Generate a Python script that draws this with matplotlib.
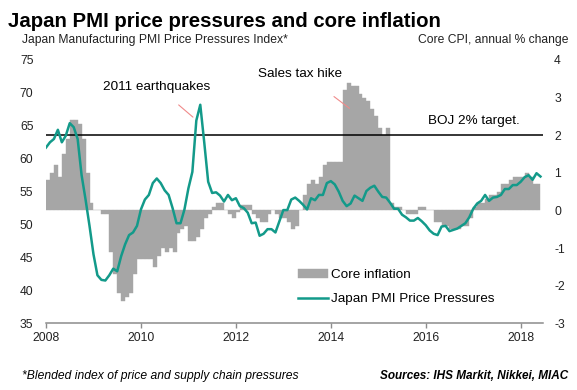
import numpy as np
import matplotlib
matplotlib.use("Agg")
import matplotlib.pyplot as plt

plt.rcParams['font.family'] = ['Liberation Sans', 'DejaVu Sans']
plt.rcParams['axes.unicode_minus'] = False

# monthly data, Jan 2008 onwards
cpi = [
    0.8, 1.0, 1.2, 0.9, 1.5, 1.9, 2.4, 2.4, 2.3, 1.9, 1.0, 0.2,          # 2008
    0.0, 0.0, -0.1, -0.1, -1.1, -1.7, -2.2, -2.4, -2.3, -2.2, -1.7, -1.3,  # 2009
    -1.3, -1.3, -1.3, -1.5, -1.2, -1.0, -1.1, -1.0, -1.1, -0.6, -0.5, -0.4,  # 2010
    -0.8, -0.8, -0.7, -0.5, -0.2, -0.1, 0.1, 0.2, 0.2, 0.0, -0.1, -0.2,  # 2011
    -0.05, 0.15, 0.15, 0.15, -0.1, -0.2, -0.3, -0.3, -0.1, 0.0, -0.1, -0.2,  # 2012
    -0.2, -0.3, -0.5, -0.4, 0.0, 0.4, 0.7, 0.8, 0.7, 0.9, 1.2, 1.3,      # 2013
    1.3, 1.3, 1.3, 3.2, 3.4, 3.3, 3.3, 3.1, 3.0, 2.9, 2.7, 2.5,          # 2014
    2.2, 2.0, 2.2, 0.2, 0.1, 0.1, 0.0, -0.1, -0.1, -0.1, 0.1, 0.1,       # 2015
    0.0, 0.0, -0.3, -0.3, -0.4, -0.4, -0.5, -0.5, -0.5, -0.4, -0.4, -0.2,  # 2016
    0.1, 0.2, 0.2, 0.3, 0.4, 0.4, 0.5, 0.7, 0.7, 0.8, 0.9, 0.9,          # 2017
    0.9, 1.0, 0.9, 0.7, 0.7,                                              # 2018
]

pmi = [
    61.7, 62.5, 63.0, 64.4, 62.5, 63.5, 65.4, 64.8, 63.0, 57.5, 53.8, 49.8,
    45.5, 42.3, 41.6, 41.5, 42.3, 43.3, 42.9, 45.2, 47.0, 48.4, 48.8, 49.8,
    52.3, 53.8, 54.5, 56.3, 57.0, 56.3, 55.2, 54.5, 52.5, 50.2, 50.2, 52.3,
    55.5, 58.0, 65.8, 68.2, 62.5, 56.5, 54.8, 54.9, 54.4, 53.5, 54.5, 53.7,
    54.0, 52.8, 52.5, 51.8, 50.2, 50.3, 48.3, 48.6, 49.3, 49.3, 48.8, 50.5,
    52.2, 52.2, 53.8, 54.1, 53.6, 53.0, 52.3, 54.0, 53.7, 54.5, 54.5, 56.3,
    56.6, 56.1, 55.0, 53.6, 52.8, 53.2, 54.4, 54.0, 53.6, 55.1, 55.6, 55.9,
    55.0, 54.2, 54.1, 53.3, 52.4, 52.4, 51.5, 51.1, 50.6, 50.6, 51.0, 50.5,
    49.9, 49.1, 48.6, 48.4, 49.7, 49.8, 49.0, 49.2, 49.4, 49.8, 50.2, 51.1,
    52.4, 53.2, 53.6, 54.5, 53.6, 54.1, 54.2, 54.5, 55.4, 55.4, 56.0, 56.0,
    56.5, 57.2, 57.5, 56.8, 57.8, 57.3,
]

years = [2008, 2010, 2012, 2014, 2016, 2018]
left_ticks = [35, 40, 45, 50, 55, 60, 65, 70, 75]
right_ticks = [-3, -2, -1, 0, 1, 2, 3, 4]
boj_target = 2

t_cpi = 2008 + np.arange(len(cpi)) / 12
t_pmi = 2008 + np.arange(len(pmi)) / 12

teal = '#139a8a'
grey = '#a6a6a6'

fig = plt.figure(figsize=(5.77, 3.9), dpi=100)
ax = fig.add_axes([46/577, (390-323.3)/390, (543-46)/577, (323.3-60)/390])
ax2 = ax.twinx()
ax.set_zorder(ax2.get_zorder() + 1)
ax.patch.set_visible(False)

bars = ax2.bar(t_cpi, cpi, width=1/12, align='edge', color=grey,
               edgecolor=grey, linewidth=0.3, label='Core inflation')
ax2.axhline(boj_target, color='black', lw=1.1)
line, = ax.plot(t_pmi, pmi, color=teal, lw=1.8, label='Japan PMI Price Pressures')

ax.set_xlim(2008, 2018.47)
ax.set_ylim(35, 75)
ax2.set_ylim(-3, 4)
ax.set_xticks(years)
ax.set_yticks(left_ticks)
ax2.set_yticks(right_ticks)

for a in (ax, ax2):
    for s in ('top', 'left', 'right'):
        a.spines[s].set_visible(False)
ax2.spines['bottom'].set_visible(False)
ax.spines['bottom'].set_color('#8c8c8c')
ax.spines['bottom'].set_linewidth(1.1)

ax.tick_params(axis='y', length=0, pad=9, labelsize=8.7, colors='#222222')
ax2.tick_params(axis='y', length=0, pad=8, labelsize=8.7, colors='#222222')
ax.tick_params(axis='x', length=3.5, width=1, color='#8c8c8c', pad=3,
               labelsize=8.7, labelcolor='#222222')

# annotations
ax.text(2010.32, 70.9, '2011 earthquakes', ha='center', va='center', fontsize=9.7)
ax.annotate('', xy=(2011.14, 66.05), xytext=(2010.75, 68.45),
            arrowprops=dict(arrowstyle='-', color='#f08a8a', lw=0.8))
ax.text(2013.36, 72.9, 'Sales tax hike', ha='center', va='center', fontsize=9.7)
ax.annotate('', xy=(2014.44, 67.4), xytext=(2014.02, 69.7),
            arrowprops=dict(arrowstyle='-', color='#f08a8a', lw=0.8))
ax.text(2017.02, 65.75, 'BOJ 2% target.', ha='center', va='center', fontsize=9.7)

leg = ax.legend([bars, line], ['Core inflation', 'Japan PMI Price Pressures'],
                loc='upper left', bbox_to_anchor=(298/577, 1-269/390),
                bbox_transform=fig.transFigure, frameon=False, fontsize=9.7,
                handlelength=2.2, handletextpad=0.25, labelspacing=0.85,
                borderpad=0, borderaxespad=0)

fig.text(8/577, 1-27/390, 'Japan PMI price pressures and core inflation',
         fontsize=14.7, fontweight='bold', va='baseline', ha='left')
fig.text(22/577, 1-43/390, 'Japan Manufacturing PMI Price Pressures Index*',
         fontsize=8.7, va='baseline', ha='left', color='#222222')
fig.text(568/577, 1-43/390, 'Core CPI, annual % change',
         fontsize=8.7, va='baseline', ha='right', color='#222222')
fig.text(22/577, 1-379/390, '*Blended index of price and supply chain pressures',
         fontsize=8.7, style='italic', va='baseline', ha='left')
fig.text(568/577, 1-379/390, 'Sources: IHS Markit, Nikkei, MIAC',
         fontsize=8.5, style='italic', fontweight='bold', va='baseline', ha='right')

fig.savefig('out.png', dpi=100)
